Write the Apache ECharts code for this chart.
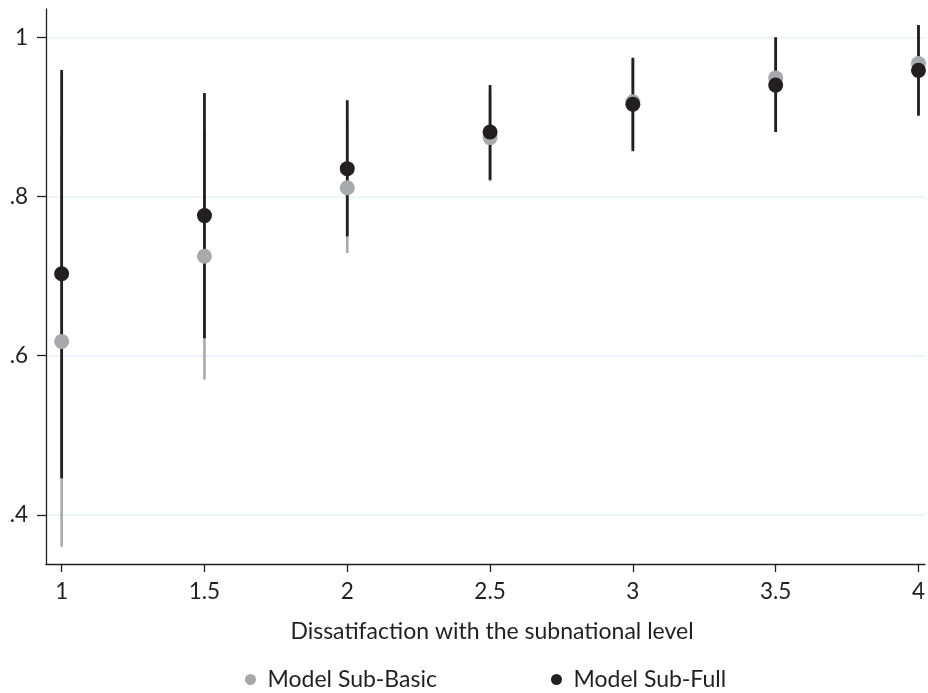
<!DOCTYPE html>
<html>
<head>
<meta charset="utf-8">
<script src="https://cdn.jsdelivr.net/npm/echarts@6/dist/echarts.min.js"></script>
<style>html,body{margin:0;padding:0;background:#fff}#c{width:928px;height:693px}</style>
</head>
<body>
<div id="c"></div>
<script>
const xValues = [1, 1.5, 2, 2.5, 3, 3.5, 4];
const basicEst = [0.618, 0.725, 0.811, 0.874, 0.919, 0.949, 0.967];
const basicLo  = [0.360, 0.570, 0.729, 0.819, 0.860, 0.885, 0.905];
const basicHi  = [0.876, 0.880, 0.893, 0.930, 0.975, 1.000, 1.015];
const fullEst  = [0.703, 0.776, 0.835, 0.881, 0.916, 0.940, 0.9585];
const fullLo   = [0.446, 0.622, 0.750, 0.821, 0.857, 0.881, 0.9015];
const fullHi   = [0.959, 0.930, 0.921, 0.940, 0.974, 1.000, 1.0155];
const xTicks = [1, 1.5, 2, 2.5, 3, 3.5, 4];
const yTicks = [0.4, 0.6, 0.8, 1];
const seriesNames = ['Model Sub-Basic', 'Model Sub-Full'];
const xTitle = 'Dissatifaction with the subnational level';

const grey = '#a7a9ac', black = '#231f20', txt = '#231f20';
const font = 'Lato, "Open Sans", sans-serif';
const fs = 23;

function ciData(lo, hi) { return xValues.map((x, i) => [x, lo[i], hi[i]]); }
function ciRender(color, width) {
  return function (params, api) {
    const a = api.coord([api.value(0), api.value(1)]);
    const b = api.coord([api.value(0), api.value(2)]);
    return { type: 'line', shape: { x1: a[0], y1: a[1], x2: b[0], y2: b[1] },
      style: { stroke: color, lineWidth: width } };
  };
}

const chart = echarts.init(document.getElementById('c'));
chart.setOption({
  animation: false,
  grid: { left: 46, right: 0, top: 9, bottom: 129, containLabel: false },
  xAxis: {
    type: 'value', min: 0.9452, max: 4.0227,
    axisLine: { show: true, lineStyle: { color: txt, width: 1.3 } },
    axisTick: { show: true, customValues: xTicks, length: 8, lineStyle: { color: txt, width: 1.3 } },
    axisLabel: { customValues: xTicks, margin: 16, fontSize: 22.5, color: txt, fontFamily: font,
      formatter: v => String(v) },
    splitLine: { show: false }
  },
  yAxis: {
    type: 'value', min: 0.3383, max: 1.0356,
    axisLine: { show: true, lineStyle: { color: txt, width: 1.3 } },
    axisTick: { show: true, customValues: yTicks, length: 9, lineStyle: { color: txt, width: 1.3 } },
    axisLabel: { customValues: yTicks, margin: 18, fontSize: 22.5, color: txt, fontFamily: font,
      formatter: v => (Math.abs(v - 1) < 1e-9 ? '1' : String(+v.toFixed(1)).replace(/^0/, '')) },
    splitLine: { show: true, lineStyle: { color: '#e6f2f4', width: 1.5 } }
  },
  legend: [
    { data: [seriesNames[0]], left: 245, top: 668, icon: 'circle', itemWidth: 24, itemHeight: 11, itemGap: 0,
      padding: 0, textStyle: { fontSize: fs, color: txt, fontFamily: font } },
    { data: [seriesNames[1]], left: 551, top: 668, icon: 'circle', itemWidth: 24, itemHeight: 11, itemGap: 0,
      padding: 0, textStyle: { fontSize: fs, color: txt, fontFamily: font } }
  ],
  graphic: [{ type: 'text', x: 492, y: 632, style: { text: xTitle, fontSize: fs, fill: txt,
    fontFamily: font, align: 'center', verticalAlign: 'middle' } }],
  series: [
    { type: 'custom', name: 'basicCI', renderItem: ciRender(grey, 2.6), data: ciData(basicLo, basicHi),
      encode: { x: 0, y: [1, 2] }, z: 1, silent: true },
    { type: 'custom', name: 'fullCI', renderItem: ciRender(black, 2.8), data: ciData(fullLo, fullHi),
      encode: { x: 0, y: [1, 2] }, z: 2, silent: true },
    { type: 'scatter', name: seriesNames[0], data: xValues.map((x, i) => [x, basicEst[i]]),
      symbolSize: 15, itemStyle: { color: grey, opacity: 1 }, z: 3 },
    { type: 'scatter', name: seriesNames[1], data: xValues.map((x, i) => [x, fullEst[i]]),
      symbolSize: 15, itemStyle: { color: black, opacity: 1 }, z: 4 }
  ]
});
</script>
</body>
</html>
